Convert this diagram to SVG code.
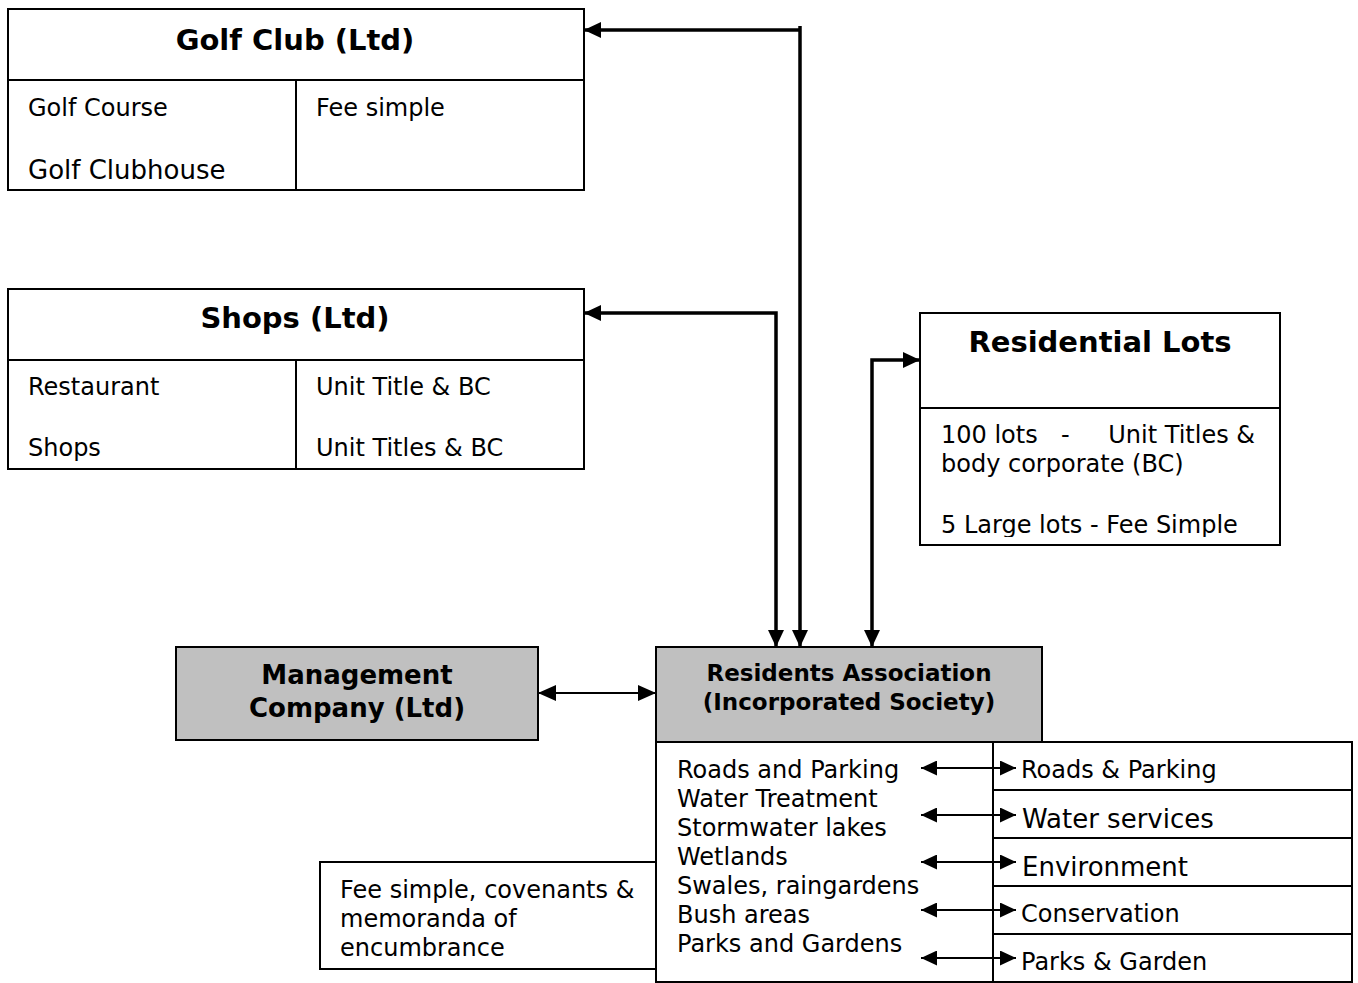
<svg xmlns="http://www.w3.org/2000/svg" width="1358" height="983" viewBox="0 0 1358 983">
<style>
  .box{fill:#fff;stroke:#000;stroke-width:2}
  .grey{fill:#c0c0c0;stroke:#000;stroke-width:2}
  .ln{stroke:#000;stroke-width:2;fill:none}
  .t{font-family:"DejaVu Sans","Liberation Sans",sans-serif;fill:#000}
  .title{font-size:29px;font-weight:bold;text-anchor:middle}
  .b{font-size:24px}
  .bb{font-size:26px}
  .conn{stroke:#000;stroke-width:3.5;fill:none}
  .conn2{stroke:#000;stroke-width:2.2;fill:none}
</style>
<defs>
  <marker id="big" markerUnits="userSpaceOnUse" markerWidth="18" markerHeight="16" refX="17" refY="8" orient="auto-start-reverse">
    <path d="M0,0 L17,8 L0,16 z" fill="#000"/>
  </marker>
  <marker id="mid" markerUnits="userSpaceOnUse" markerWidth="18" markerHeight="16" refX="18" refY="8" orient="auto-start-reverse">
    <path d="M0,0 L18,8 L0,16 z" fill="#000"/>
  </marker>
  <marker id="sm" markerUnits="userSpaceOnUse" markerWidth="16" markerHeight="15" refX="16" refY="7.5" orient="auto-start-reverse">
    <path d="M0,0 L16,7.5 L0,15 z" fill="#000"/>
  </marker>
  <clipPath id="resclip"><rect x="920" y="408" width="360" height="129"/></clipPath>
</defs>

<g id="golf-club">
  <rect class="box" x="8" y="9" width="576" height="181"/>
  <line class="ln" x1="8" y1="80" x2="584" y2="80"/>
  <line class="ln" x1="296" y1="80" x2="296" y2="190"/>
  <text class="t title" x="295" y="50">Golf Club (Ltd)</text>
  <text class="t b" x="28" y="116">Golf Course</text>
  <text class="t bb" x="28" y="179">Golf Clubhouse</text>
  <text class="t b" x="316" y="116">Fee simple</text>
</g>

<g id="shops">
  <rect class="box" x="8" y="289" width="576" height="180"/>
  <line class="ln" x1="8" y1="360" x2="584" y2="360"/>
  <line class="ln" x1="296" y1="360" x2="296" y2="469"/>
  <text class="t title" x="295" y="328">Shops (Ltd)</text>
  <text class="t b" x="28" y="395">Restaurant</text>
  <text class="t b" x="28" y="456">Shops</text>
  <text class="t b" x="316" y="395">Unit Title &amp; BC</text>
  <text class="t b" x="316" y="456">Unit Titles &amp; BC</text>
</g>

<g id="residential-lots">
  <rect class="box" x="920" y="313" width="360" height="232"/>
  <line class="ln" x1="920" y1="408" x2="1280" y2="408"/>
  <text class="t title" x="1100" y="352">Residential Lots</text>
  <g clip-path="url(#resclip)">
    <text class="t b" x="941" y="443">100 lots</text>
    <text class="t b" x="1061" y="443">-</text>
    <text class="t b" x="1255" y="443" text-anchor="end">Unit Titles &amp;</text>
    <text class="t b" x="941" y="472">body corporate (BC)</text>
    <text class="t b" x="941" y="533">5 Large lots - Fee Simple</text>
  </g>
</g>

<g id="management-company">
  <rect class="grey" x="176" y="647" width="362" height="93"/>
  <text class="t" x="357" y="684" font-size="26" font-weight="bold" text-anchor="middle">Management</text>
  <text class="t" x="357" y="717" font-size="26" font-weight="bold" text-anchor="middle">Company (Ltd)</text>
</g>

<g id="residents-association">
  <rect class="grey" x="656" y="647" width="386" height="95"/>
  <text class="t" x="849" y="681" font-size="23" font-weight="bold" text-anchor="middle">Residents Association</text>
  <text class="t" x="849" y="710" font-size="23" font-weight="bold" text-anchor="middle">(Incorporated Society)</text>
</g>

<g id="fee-simple-box">
  <rect class="box" x="320" y="862" width="336" height="107"/>
  <text class="t b" x="340" y="898">Fee simple, covenants &amp;</text>
  <text class="t b" x="340" y="927">memoranda of</text>
  <text class="t b" x="340" y="956">encumbrance</text>
</g>

<g id="assets">
  <rect class="box" x="656" y="742" width="337" height="240"/>
  <text class="t b" x="677" y="778">Roads and Parking</text>
  <text class="t b" x="677" y="807">Water Treatment</text>
  <text class="t b" x="677" y="836">Stormwater lakes</text>
  <text class="t b" x="677" y="865">Wetlands</text>
  <text class="t b" x="677" y="894">Swales, raingardens</text>
  <text class="t b" x="677" y="923">Bush areas</text>
  <text class="t b" x="677" y="952">Parks and Gardens</text>
</g>

<g id="services">
  <rect class="box" x="993" y="742" width="359" height="240"/>
  <line class="ln" x1="993" y1="790" x2="1352" y2="790"/>
  <line class="ln" x1="993" y1="838" x2="1352" y2="838"/>
  <line class="ln" x1="993" y1="886" x2="1352" y2="886"/>
  <line class="ln" x1="993" y1="934" x2="1352" y2="934"/>
  <text class="t b" x="1021" y="778">Roads &amp; Parking</text>
  <text class="t bb" x="1022" y="828">Water services</text>
  <text class="t bb" x="1022" y="876">Environment</text>
  <text class="t b" x="1021" y="922">Conservation</text>
  <text class="t b" x="1021" y="970">Parks &amp; Garden</text>
</g>

<g id="connectors">
  <path class="conn" d="M800,26 V647" marker-end="url(#big)"/>
  <path class="conn" d="M800,30 H584" marker-end="url(#big)"/>
  <path class="conn" d="M584,313 H776 V647" marker-start="url(#big)" marker-end="url(#big)"/>
  <path class="conn" d="M920,360 H872 V647" marker-start="url(#big)" marker-end="url(#big)"/>
  <path class="conn2" d="M538,693 H656" marker-start="url(#mid)" marker-end="url(#mid)"/>
  <path class="conn2" d="M921,768 H1016" marker-start="url(#sm)" marker-end="url(#sm)"/>
  <path class="conn2" d="M921,815 H1016" marker-start="url(#sm)" marker-end="url(#sm)"/>
  <path class="conn2" d="M921,862 H1016" marker-start="url(#sm)" marker-end="url(#sm)"/>
  <path class="conn2" d="M921,910 H1016" marker-start="url(#sm)" marker-end="url(#sm)"/>
  <path class="conn2" d="M921,958 H1016" marker-start="url(#sm)" marker-end="url(#sm)"/>
</g>
</svg>
